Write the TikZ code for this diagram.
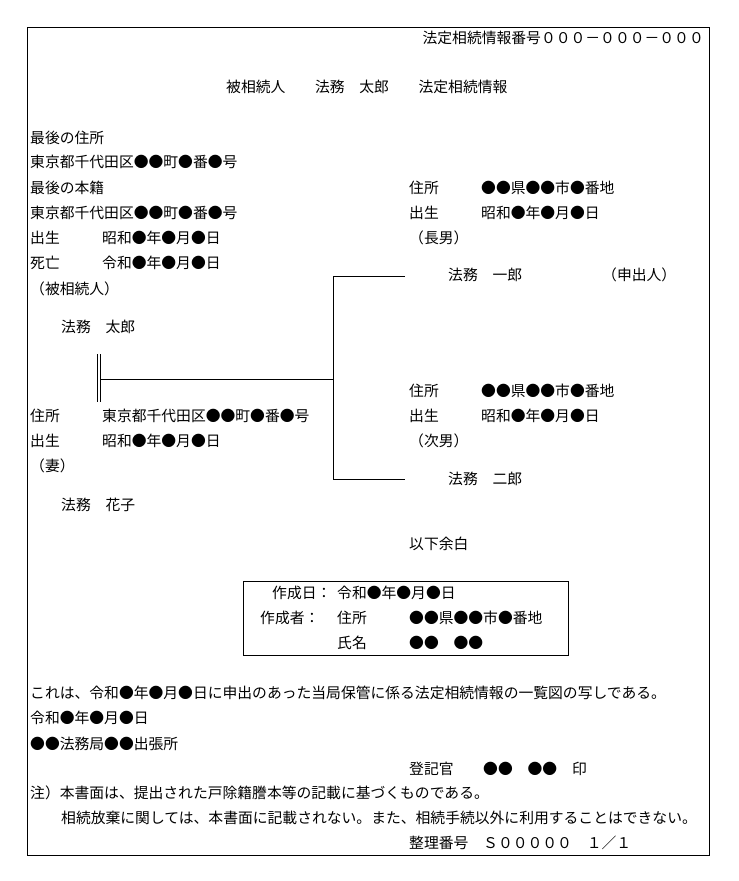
\documentclass[tikz,border=0pt]{standalone}
\usepackage{fontspec}
\newfontfamily\jpfont{Noto Sans CJK JP}
\begin{document}
\begin{tikzpicture}[x=1pt,y=-1pt,
  txt/.style={anchor=west,inner sep=0pt,text height=0.88em,text depth=0.12em,yshift=-2.5pt,
    font=\jpfont\fontsize{14.8pt}{15pt}\selectfont},
  rtxt/.style={txt,anchor=east},
  ln/.style={line width=1pt,black}]
\useasboundingbox (0,0) rectangle (739,881);
% outer frame
\draw[ln] (27,27) rectangle (709,855);
% header
\node[rtxt] (hdr) at (704,37) {法定相続情報番号０００－０００－０００};
\node[txt] (title) at (226,86) {被相続人　　法務　太郎　　法定相続情報};
% deceased
\node[txt] (a1) at (30,137) {最後の住所};
\node[txt] (a2) at (30,161) {東京都千代田区●●町●番●号};
\node[txt] (a3) at (30,187) {最後の本籍};
\node[txt] (a4) at (30,212) {東京都千代田区●●町●番●号};
\node[txt] (a5) at (30,237) {出生};
\node[txt] (a5v) at (102,237) {昭和●年●月●日};
\node[txt] (a6) at (30,262) {死亡};
\node[txt] (a6v) at (102,262) {令和●年●月●日};
\node[txt] (a7) at (30,288) {（被相続人）};
\node[txt] (taro) at (61,326) {法務　太郎};
% wife
\node[txt] (w1) at (30,415) {住所};
\node[txt] (w1v) at (102,415) {東京都千代田区●●町●番●号};
\node[txt] (w2) at (30,440) {出生};
\node[txt] (w2v) at (102,440) {昭和●年●月●日};
\node[txt] (w3) at (30,465) {（妻）};
\node[txt] (hanako) at (61,504) {法務　花子};
% first son
\node[txt] (s1) at (409,187) {住所};
\node[txt] (s1v) at (481,187) {●●県●●市●番地};
\node[txt] (s2) at (409,212) {出生};
\node[txt] (s2v) at (481,212) {昭和●年●月●日};
\node[txt] (s3) at (409,237) {（長男）};
\node[txt] (ichiro) at (448,274) {法務　一郎};
\node[txt] (mos) at (602,274) {（申出人）};
% second son
\node[txt] (j1) at (409,390) {住所};
\node[txt] (j1v) at (481,390) {●●県●●市●番地};
\node[txt] (j2) at (409,415) {出生};
\node[txt] (j2v) at (481,415) {昭和●年●月●日};
\node[txt] (j3) at (409,440) {（次男）};
\node[txt] (jiro) at (448,478) {法務　二郎};
\node[txt] (yoka) at (409,543) {以下余白};
% connectors
\coordinate (m1) at (97,354);
\coordinate (m2) at (97,402);
\coordinate (m3) at (100,354);
\coordinate (m4) at (100,402);
\coordinate (h1) at (100,379);
\coordinate (h2) at (333,379);
\coordinate (v1) at (333,276);
\coordinate (v2) at (333,479);
\coordinate (e1) at (405,276);
\coordinate (e2) at (405,479);
\draw[ln] (m1) -- (m2);
\draw[ln] (m3) -- (m4);
\draw[ln] (h1) -- (h2);
\draw[ln] (e1) -- (v1) -- (v2) -- (e2);
% creator box
\node[draw,line width=1pt,minimum width=325pt,minimum height=74pt,anchor=north west,inner sep=0pt] (box) at (243,581) {};
\node[txt] (c1) at (272,592) {作成日：};
\node[txt] (c1v) at (337,592) {令和●年●月●日};
\node[txt] (c2) at (260,617) {作成者：};
\node[txt] (c2a) at (337,617) {住所};
\node[txt] (c2v) at (409,617) {●●県●●市●番地};
\node[txt] (c3a) at (337,642) {氏名};
\node[txt] (c3v) at (409,642) {●●　●●};
% certification
\node[txt] (b1) at (30,692) {これは、令和●年●月●日に申出のあった当局保管に係る法定相続情報の一覧図の写しである。};
\node[txt] (b2) at (30,717) {令和●年●月●日};
\node[txt] (b3) at (30,743) {●●法務局●●出張所};
\node[txt] (b4) at (409,768) {登記官　　●●　●●　印};
\node[txt] (b5) at (30,792) {注）本書面は、提出された戸除籍謄本等の記載に基づくものである。};
\node[txt] (b6) at (61,817) {相続放棄に関しては、本書面に記載されない。また、相続手続以外に利用することはできない。};
\node[txt] (b7) at (409,842) {整理番号　Ｓ０００００　１／１};
\end{tikzpicture}
\end{document}
